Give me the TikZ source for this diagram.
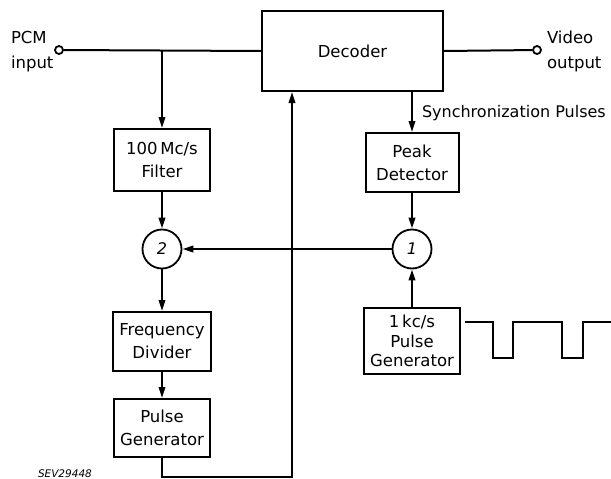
\documentclass[tikz,border=0pt]{standalone}
\usepackage{fontspec}
\setmainfont{DejaVu Sans}
\usetikzlibrary{arrows.meta}
\begin{document}
\begin{tikzpicture}[x=1pt,y=-1pt,
  line width=2pt,
  box/.style={draw,line width=2pt,inner sep=0pt,align=center,font=\fontsize{16.5}{23}\selectfont},
  junc/.style={draw,circle,line width=1.8pt,minimum size=39pt,inner sep=0pt,font=\fontsize{16}{18}\selectfont\itshape},
  term/.style={draw,circle,line width=1.8pt,minimum size=8pt,inner sep=0pt,fill=white},
  lbl/.style={inner sep=0pt,anchor=west,font=\fontsize{16.5}{18}\selectfont},
  arr/.style={-{Triangle[length=11pt,width=6.5pt]}},
]
\useasboundingbox (0,0) rectangle (611,479);
% blocks
\node[box,minimum width=181pt,minimum height=80pt] (dec) at (352.5,51) {Decoder};
\node[box,minimum width=96pt,minimum height=62pt] (filt) at (162,160) {100\,Mc/s\\Filter};
\node[box,minimum width=98pt,minimum height=59pt] (freq) at (162,341.5) {Frequency\\Divider};
\node[box,minimum width=96pt,minimum height=58pt] (pgen) at (162,428) {Pulse\\Generator};
\node[box,minimum width=93pt,minimum height=59pt] (peak) at (412,162.5) {Peak\\Detector};
\node[box,minimum width=96pt,minimum height=66pt,font=\fontsize{16.5}{19.5}\selectfont] (kgen) at (412,341) {1\,kc/s\\Pulse\\Generator};
\node[junc] (c2) at (162,249) {2};
\node[junc] (c1) at (412,249) {1};
% terminals
\node[term] (tin) at (59,50) {};
\node[term] (tout) at (537,50) {};
\coordinate (j1) at (162,50);
\coordinate (b1) at (162,477);
\coordinate (b2) at (292,477);
% labels
\node[lbl] (pcm) at (10,37) {PCM};
\node[lbl] (inp) at (10,64) {input};
\node[lbl] (vid) at (546,37) {Video};
\node[lbl] (outp) at (546,64) {output};
\node[lbl,font=\fontsize{16}{18}\selectfont] (sync) at (421,113) {Synchronization Pulses};
\node[inner sep=0pt,anchor=west,font=\fontsize{10.5}{12}\selectfont\itshape] (sev) at (37,474) {SEV29448};
% connectors
\draw (tin) -- (dec.west);
\draw (dec.east) -- (tout);
\draw[arr] (j1) -- (filt.north);
\draw[arr] (filt) -- (c2);
\draw[arr] (c2) -- (freq);
\draw[arr] (freq) -- (pgen);
\draw[arr] (dec.south -| peak.north) -- (peak.north);
\draw[arr] (peak) -- (c1);
\draw[arr] (kgen) -- (c1);
\draw[arr] (c1) -- (c2);
\draw[arr] (pgen.south) -- (b1) -- (b2) -- (b2 |- dec.south);
% waveform
\draw[line width=1.8pt] (465,322) -- (493,322) -- (493,358) -- (513,358) -- (513,322) -- (562,322) -- (562,358) -- (583,358) -- (583,322) -- (611,322);
\end{tikzpicture}
\end{document}
